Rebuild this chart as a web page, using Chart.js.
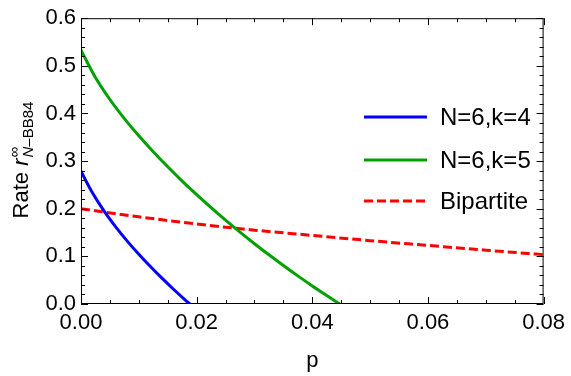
<!DOCTYPE html>
<html>
<head>
<meta charset="utf-8">
<script src="https://cdn.jsdelivr.net/npm/chart.js@4"></script>
<style>
  body { margin: 0; background: #fff; }
</style>
</head>
<body>
<canvas id="myChart" width="571" height="376"></canvas>
<script>
// values
const pBlue = [0, 0.001, 0.002, 0.004, 0.006, 0.008, 0.01, 0.012, 0.014, 0.016, 0.018, 0.01885];
const rBlue = [0.279, 0.255, 0.233, 0.195, 0.162, 0.132, 0.1044, 0.0786, 0.0542, 0.031, 0.0088, 0];

const pGreen = [0, 0.0025, 0.005, 0.0075, 0.01, 0.0125, 0.015, 0.0175, 0.02, 0.0225,
                0.025, 0.0275, 0.03, 0.0325, 0.035, 0.0375, 0.04, 0.0425, 0.04475];
const rGreen = [0.533, 0.4755, 0.4293, 0.3893, 0.353, 0.3195, 0.288, 0.258, 0.2295, 0.2023,
                0.176, 0.1508, 0.1265, 0.1033, 0.0808, 0.059, 0.038, 0.0178, 0];

const pRed = [0, 0.01, 0.02, 0.03, 0.04, 0.05, 0.06, 0.07, 0.08];
const rRed = [0.200, 0.183, 0.168, 0.155, 0.144, 0.133, 0.123, 0.113, 0.1035];

const labels = ['N=6,k=4', 'N=6,k=5', 'Bipartite'];
const colors = ['#0000ff', '#00a000', '#ff0000'];

const xTicks = [0, 0.02, 0.04, 0.06, 0.08];
const yTicks = [0, 0.1, 0.2, 0.3, 0.4, 0.5, 0.6];

function pts(xs, ys) {
    return xs.map((x, i) => ({ x: x, y: ys[i] }));
}

const FONT = '"Liberation Sans", Arial, sans-serif';

// ticks inside the frame on all four sides, plus legend and axis titles
const framePlugin = {
    id: 'frame',
    afterDraw(chart) {
        const ctx = chart.ctx;
        const a = chart.chartArea;
        const xs = chart.scales.x, ys = chart.scales.y;
        ctx.save();
        ctx.strokeStyle = '#000';
        ctx.lineWidth = 1;
        ctx.strokeRect(a.left + 0.5, a.top + 0.5, a.right - a.left - 1, a.bottom - a.top - 1);
        ctx.beginPath();
        for (let i = 0; i <= 16; i++) {
            const v = i * 0.005;
            const px = Math.round(xs.getPixelForValue(v)) + 0.5;
            const len = i % 4 === 0 ? 7 : 4;
            ctx.moveTo(px, a.bottom); ctx.lineTo(px, a.bottom - len);
            ctx.moveTo(px, a.top); ctx.lineTo(px, a.top + len);
        }
        for (let i = 0; i <= 30; i++) {
            const v = i * 0.02;
            const py = Math.round(ys.getPixelForValue(v)) + 0.5;
            const len = i % 5 === 0 ? 7 : 4;
            ctx.moveTo(a.left, py); ctx.lineTo(a.left + len, py);
            ctx.moveTo(a.right, py); ctx.lineTo(a.right - len, py);
        }
        ctx.stroke();

        // legend
        const ly = [117, 160, 201];
        ctx.lineWidth = 3;
        labels.forEach((t, i) => {
            ctx.strokeStyle = colors[i];
            ctx.setLineDash(i === 2 ? [9, 4] : []);
            ctx.beginPath();
            ctx.moveTo(364, ly[i]); ctx.lineTo(427, ly[i]);
            ctx.stroke();
            ctx.setLineDash([]);
            ctx.fillStyle = '#000';
            ctx.font = '24px ' + FONT;
            ctx.textBaseline = 'middle';
            ctx.textAlign = 'left';
            ctx.fillText(t, 440, ly[i] + 1);
        });

        // x title
        ctx.font = '22px ' + FONT;
        ctx.textAlign = 'center';
        ctx.textBaseline = 'alphabetic';
        ctx.fillText('p', (a.left + a.right) / 2, 367);

        // y title: Rate r^inf_{N-BB84}
        const big = '22px ' + FONT, bigI = 'italic 22px ' + FONT;
        const sm = '15px ' + FONT, smI = 'italic 15px ' + FONT;
        ctx.translate(28, 160);
        ctx.rotate(-Math.PI / 2);
        ctx.textAlign = 'left';
        ctx.font = big; const w1 = ctx.measureText('Rate ').width;
        ctx.font = bigI; const w2 = ctx.measureText('r').width;
        ctx.font = smI; const w3 = ctx.measureText('N').width;
        ctx.font = sm; const w4 = ctx.measureText('\u2013BB84').width;
        ctx.font = sm; const w5 = ctx.measureText('\u221e').width;
        const total = w1 + w2 + 1 + Math.max(w3 + w4, w5);
        let x = -total / 2;
        ctx.font = big; ctx.fillText('Rate ', x, 0); x += w1;
        ctx.font = bigI; ctx.fillText('r', x, 0); x += w2 + 1;
        ctx.font = sm; ctx.fillText('\u221e', x, -9);
        ctx.font = smI; ctx.fillText('N', x, 5);
        ctx.font = sm; ctx.fillText('\u2013BB84', x + w3, 5);
        ctx.restore();
    }
};

const ctx = document.getElementById('myChart').getContext('2d');
new Chart(ctx, {
    type: 'line',
    data: {
        datasets: [
            { label: labels[0], data: pts(pBlue, rBlue), borderColor: colors[0] },
            { label: labels[1], data: pts(pGreen, rGreen), borderColor: colors[1] },
            { label: labels[2], data: pts(pRed, rRed), borderColor: colors[2], borderDash: [9, 4] }
        ]
    },
    options: {
        responsive: false,
        animation: false,
        layout: { padding: { left: 0, right: 23, top: 16, bottom: 0 } },
        elements: {
            point: { radius: 0 },
            line: { borderWidth: 3, cubicInterpolationMode: 'monotone', fill: false }
        },
        plugins: {
            legend: { display: false },
            tooltip: { enabled: false }
        },
        scales: {
            x: {
                type: 'linear',
                min: 0,
                max: 0.08,
                afterFit: s => { s.height = 72; },
                afterBuildTicks: s => { s.ticks = xTicks.map(v => ({ value: v })); },
                grid: { display: false, drawTicks: false },
                border: { display: false },
                ticks: {
                    color: '#000',
                    padding: 6,
                    maxRotation: 0,
                    font: { family: FONT, size: 22 },
                    callback: v => v.toFixed(2)
                }
            },
            y: {
                type: 'linear',
                min: 0,
                max: 0.6,
                afterFit: s => { s.width = 81; },
                afterBuildTicks: s => { s.ticks = yTicks.map(v => ({ value: v })); },
                grid: { display: false, drawTicks: false },
                border: { display: false },
                ticks: {
                    color: '#000',
                    padding: 5,
                    font: { family: FONT, size: 22 },
                    callback: v => v.toFixed(1)
                }
            }
        }
    },
    plugins: [framePlugin]
});
</script>
</body>
</html>
